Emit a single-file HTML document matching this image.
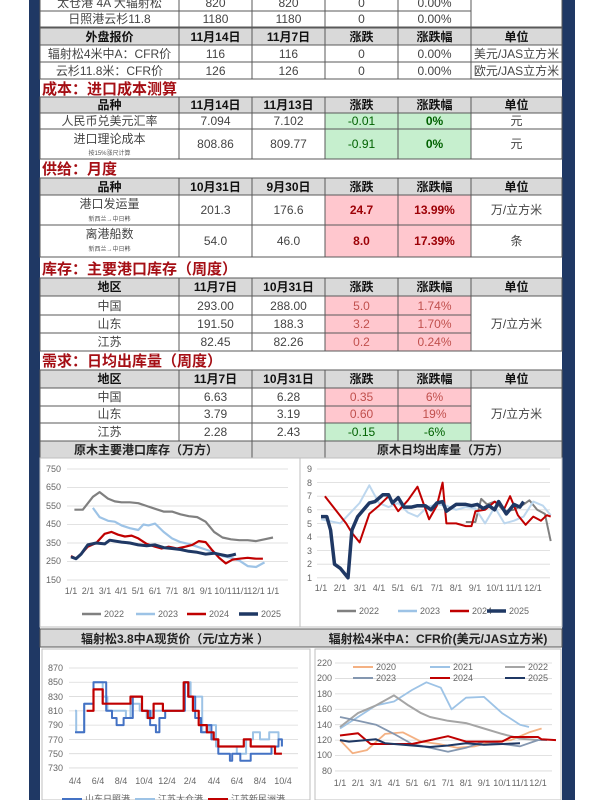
<!DOCTYPE html>
<html><head><meta charset="utf-8"><style>
html,body{margin:0;padding:0;background:#fff;}
svg{display:block;font-family:"Liberation Sans","Noto Sans CJK SC",sans-serif;}
.t{font-size:12px;text-anchor:middle;fill:#444;}
.h{font-size:12px;text-anchor:middle;fill:#111;font-weight:bold;}
.s{font-size:6px;text-anchor:middle;fill:#555;}
.sec{font-size:15px;font-weight:bold;fill:#a50f15;}
.ax{font-size:9px;fill:#666;}
.axm{font-size:9px;fill:#666;text-anchor:middle;}
.ct{font-size:12px;font-weight:bold;text-anchor:middle;fill:#222;}
</style></head><body>
<svg id="s" width="600" height="800" viewBox="0 0 600 800">
<rect x="29" y="0" width="546" height="800" fill="#1f3864"/>
<rect x="40" y="0" width="522" height="800" fill="#fff"/>
<g id="cells"></g>
<g id="charts"></g>
<g>
<text class="t" x="109.5" y="7">太仓港 4A 大辐射松</text><text class="t" x="215.5" y="7">820</text><text class="t" x="288.5" y="7">820</text><text class="t" x="361.5" y="7">0</text><text class="t" x="434.5" y="7">0.00%</text>
<text class="t" x="109.5" y="23">日照港云杉11.8</text><text class="t" x="215.5" y="23">1180</text><text class="t" x="288.5" y="23">1180</text><text class="t" x="361.5" y="23">0</text><text class="t" x="434.5" y="23">0.00%</text>
<text class="h" x="109.5" y="41">外盘报价</text><text class="h" x="215.5" y="41">11月14日</text><text class="h" x="288.5" y="41">11月7日</text><text class="h" x="361.5" y="41">涨跌</text><text class="h" x="434.5" y="41">涨跌幅</text><text class="h" x="516.5" y="41">单位</text>
<text class="t" x="109.5" y="58">辐射松4米中A：CFR价</text><text class="t" x="215.5" y="58">116</text><text class="t" x="288.5" y="58">116</text><text class="t" x="361.5" y="58">0</text><text class="t" x="434.5" y="58">0.00%</text><text class="t" x="516.5" y="58">美元/JAS立方米</text>
<text class="t" x="109.5" y="75">云杉11.8米：CFR价</text><text class="t" x="215.5" y="75">126</text><text class="t" x="288.5" y="75">126</text><text class="t" x="361.5" y="75">0</text><text class="t" x="434.5" y="75">0.00%</text><text class="t" x="516.5" y="75">欧元/JAS立方米</text>
<text class="sec" x="42" y="94">成本：进口成本测算</text>
<text class="h" x="109.5" y="109">品种</text><text class="h" x="215.5" y="109">11月14日</text><text class="h" x="288.5" y="109">11月13日</text><text class="h" x="361.5" y="109">涨跌</text><text class="h" x="434.5" y="109">涨跌幅</text><text class="h" x="516.5" y="109">单位</text>
<text class="t" x="109.5" y="125">人民币兑美元汇率</text><text class="t" x="215.5" y="125">7.094</text><text class="t" x="288.5" y="125">7.102</text><text class="t" x="361.5" y="125" style="fill:#006100">-0.01</text><text class="t" x="434.5" y="125" style="fill:#006100;font-weight:bold">0%</text><text class="t" x="516.5" y="125">元</text>
<text class="t" x="109.5" y="143">进口理论成本</text><text class="s" x="109.5" y="155">按15%涨尺计算</text><text class="t" x="215.5" y="148">808.86</text><text class="t" x="288.5" y="148">809.77</text><text class="t" x="361.5" y="148" style="fill:#006100">-0.91</text><text class="t" x="434.5" y="148" style="fill:#006100;font-weight:bold">0%</text><text class="t" x="516.5" y="148">元</text>
<text class="sec" x="42" y="174">供给：月度</text>
<text class="h" x="109.5" y="191">品种</text><text class="h" x="215.5" y="191">10月31日</text><text class="h" x="288.5" y="191">9月30日</text><text class="h" x="361.5" y="191">涨跌</text><text class="h" x="434.5" y="191">涨跌幅</text><text class="h" x="516.5" y="191">单位</text>
<text class="t" x="109.5" y="208">港口发运量</text><text class="s" x="109.5" y="221">新西兰→中日韩</text><text class="t" x="215.5" y="214">201.3</text><text class="t" x="288.5" y="214">176.6</text><text class="t" x="361.5" y="214" style="fill:#9c0006;font-weight:bold">24.7</text><text class="t" x="434.5" y="214" style="fill:#9c0006;font-weight:bold">13.99%</text><text class="t" x="516.5" y="214">万/立方米</text>
<text class="t" x="109.5" y="238">离港船数</text><text class="s" x="109.5" y="251">新西兰→中日韩</text><text class="t" x="215.5" y="245">54.0</text><text class="t" x="288.5" y="245">46.0</text><text class="t" x="361.5" y="245" style="fill:#9c0006;font-weight:bold">8.0</text><text class="t" x="434.5" y="245" style="fill:#9c0006;font-weight:bold">17.39%</text><text class="t" x="516.5" y="245">条</text>
<text class="sec" x="42" y="274">库存：主要港口库存（周度）</text>
<text class="h" x="109.5" y="291">地区</text><text class="h" x="215.5" y="291">11月7日</text><text class="h" x="288.5" y="291">10月31日</text><text class="h" x="361.5" y="291">涨跌</text><text class="h" x="434.5" y="291">涨跌幅</text><text class="h" x="516.5" y="291">单位</text>
<text class="t" x="109.5" y="310">中国</text><text class="t" x="215.5" y="310">293.00</text><text class="t" x="288.5" y="310">288.00</text><text class="t" x="361.5" y="310" style="fill:#c0504d">5.0</text><text class="t" x="434.5" y="310" style="fill:#c0504d">1.74%</text>
<text class="t" x="109.5" y="328">山东</text><text class="t" x="215.5" y="328">191.50</text><text class="t" x="288.5" y="328">188.3</text><text class="t" x="361.5" y="328" style="fill:#c0504d">3.2</text><text class="t" x="434.5" y="328" style="fill:#c0504d">1.70%</text><text class="t" x="516.5" y="328">万/立方米</text>
<text class="t" x="109.5" y="346">江苏</text><text class="t" x="215.5" y="346">82.45</text><text class="t" x="288.5" y="346">82.26</text><text class="t" x="361.5" y="346" style="fill:#c0504d">0.2</text><text class="t" x="434.5" y="346" style="fill:#c0504d">0.24%</text>
<text class="sec" x="42" y="366">需求：日均出库量（周度）</text>
<text class="h" x="109.5" y="383">地区</text><text class="h" x="215.5" y="383">11月7日</text><text class="h" x="288.5" y="383">10月31日</text><text class="h" x="361.5" y="383">涨跌</text><text class="h" x="434.5" y="383">涨跌幅</text><text class="h" x="516.5" y="383">单位</text>
<text class="t" x="109.5" y="401">中国</text><text class="t" x="215.5" y="401">6.63</text><text class="t" x="288.5" y="401">6.28</text><text class="t" x="361.5" y="401" style="fill:#c0504d">0.35</text><text class="t" x="434.5" y="401" style="fill:#c0504d">6%</text>
<text class="t" x="109.5" y="418">山东</text><text class="t" x="215.5" y="418">3.79</text><text class="t" x="288.5" y="418">3.19</text><text class="t" x="361.5" y="418" style="fill:#c0504d">0.60</text><text class="t" x="434.5" y="418" style="fill:#c0504d">19%</text><text class="t" x="516.5" y="418">万/立方米</text>
<text class="t" x="109.5" y="436">江苏</text><text class="t" x="215.5" y="436">2.28</text><text class="t" x="288.5" y="436">2.43</text><text class="t" x="361.5" y="436" style="fill:#006100">-0.15</text><text class="t" x="434.5" y="436" style="fill:#006100">-6%</text>
<text class="ct" x="146" y="454">原木主要港口库存（万方）</text>
<text class="ct" x="443" y="454">原木日均出库量（万方）</text>
<text class="ct" x="175" y="643">辐射松3.8中A现货价（元/立方米 ）</text>
<text class="ct" x="438" y="643">辐射松4米中A：CFR价(美元/JAS立方米)</text>
</g>
<g id="labels">
<text class="ax" x="46" y="472">750</text><text class="ax" x="46" y="490">650</text><text class="ax" x="46" y="509">550</text><text class="ax" x="46" y="527">450</text><text class="ax" x="46" y="546">350</text><text class="ax" x="46" y="564">250</text><text class="ax" x="46" y="583">150</text>
<text class="axm" x="71" y="594">1/1</text><text class="axm" x="88" y="594">2/1</text><text class="axm" x="105" y="594">3/1</text><text class="axm" x="121" y="594">4/1</text><text class="axm" x="138" y="594">5/1</text><text class="axm" x="155" y="594">6/1</text><text class="axm" x="172" y="594">7/1</text><text class="axm" x="189" y="594">8/1</text><text class="axm" x="206" y="594">9/1</text><text class="axm" x="223" y="594">10/1</text><text class="axm" x="240" y="594">11/1</text><text class="axm" x="256" y="594">12/1</text><text class="axm" x="273" y="594">1/1</text>
<text class="ax" x="307" y="472">9</text><text class="ax" x="307" y="486">8</text><text class="ax" x="307" y="499">7</text><text class="ax" x="307" y="513">6</text><text class="ax" x="307" y="527">5</text><text class="ax" x="307" y="540">4</text><text class="ax" x="307" y="554">3</text><text class="ax" x="307" y="567">2</text><text class="ax" x="307" y="581">1</text>
<text class="axm" x="321" y="591">1/1</text><text class="axm" x="340" y="591">2/1</text><text class="axm" x="360" y="591">3/1</text><text class="axm" x="379" y="591">4/1</text><text class="axm" x="398" y="591">5/1</text><text class="axm" x="417" y="591">6/1</text><text class="axm" x="437" y="591">7/1</text><text class="axm" x="456" y="591">8/1</text><text class="axm" x="475" y="591">9/1</text><text class="axm" x="495" y="591">10/1</text><text class="axm" x="514" y="591">11/1</text><text class="axm" x="533" y="591">12/1</text>
<text class="ax" x="48" y="671">870</text><text class="ax" x="48" y="685">850</text><text class="ax" x="48" y="700">830</text><text class="ax" x="48" y="714">810</text><text class="ax" x="48" y="728">790</text><text class="ax" x="48" y="743">770</text><text class="ax" x="48" y="757">750</text><text class="ax" x="48" y="771">730</text>
<text class="axm" x="75" y="784">4/4</text><text class="axm" x="98" y="784">6/4</text><text class="axm" x="121" y="784">8/4</text><text class="axm" x="144" y="784">10/4</text><text class="axm" x="167" y="784">12/4</text><text class="axm" x="190" y="784">2/4</text><text class="axm" x="214" y="784">4/4</text><text class="axm" x="237" y="784">6/4</text><text class="axm" x="260" y="784">8/4</text><text class="axm" x="283" y="784">10/4</text>
<text class="ax" x="317" y="666">220</text><text class="ax" x="317" y="681">200</text><text class="ax" x="317" y="697">180</text><text class="ax" x="317" y="712">160</text><text class="ax" x="317" y="728">140</text><text class="ax" x="317" y="743">120</text><text class="ax" x="317" y="758">100</text><text class="ax" x="322" y="774">80</text>
<text class="axm" x="340" y="786">1/1</text><text class="axm" x="358" y="786">2/1</text><text class="axm" x="376" y="786">3/1</text><text class="axm" x="394" y="786">4/1</text><text class="axm" x="412" y="786">5/1</text><text class="axm" x="430" y="786">6/1</text><text class="axm" x="448" y="786">7/1</text><text class="axm" x="466" y="786">8/1</text><text class="axm" x="484" y="786">9/1</text><text class="axm" x="502" y="786">10/1</text><text class="axm" x="520" y="786">11/1</text><text class="axm" x="538" y="786">12/1</text>
<line x1="82" y1="614" x2="101" y2="614" stroke="#808080" stroke-width="2.5"/><text class="ax" x="104" y="617">2022</text>
<line x1="136" y1="614" x2="155" y2="614" stroke="#9dc3e6" stroke-width="2.5"/><text class="ax" x="158" y="617">2023</text>
<line x1="187" y1="614" x2="206" y2="614" stroke="#c00000" stroke-width="2.5"/><text class="ax" x="209" y="617">2024</text>
<line x1="239" y1="614" x2="258" y2="614" stroke="#1f3864" stroke-width="3.5"/><text class="ax" x="261" y="617">2025</text>
<line x1="337" y1="611" x2="356" y2="611" stroke="#808080" stroke-width="2.5"/><text class="ax" x="359" y="614">2022</text>
<line x1="398" y1="611" x2="417" y2="611" stroke="#9dc3e6" stroke-width="2.5"/><text class="ax" x="420" y="614">2023</text>
<line x1="450" y1="611" x2="469" y2="611" stroke="#c00000" stroke-width="2.5"/><text class="ax" x="472" y="614">2024</text>
<line x1="487" y1="611" x2="506" y2="611" stroke="#1f3864" stroke-width="3.5"/><text class="ax" x="509" y="614">2025</text>
<line x1="353" y1="667" x2="373" y2="667" stroke="#f4b183" stroke-width="2"/><text class="ax" x="376" y="670">2020</text>
<line x1="430" y1="667" x2="450" y2="667" stroke="#9dc3e6" stroke-width="2"/><text class="ax" x="453" y="670">2021</text>
<line x1="505" y1="667" x2="525" y2="667" stroke="#a5a5a5" stroke-width="2"/><text class="ax" x="528" y="670">2022</text>
<line x1="353" y1="678" x2="373" y2="678" stroke="#8497b0" stroke-width="2"/><text class="ax" x="376" y="681">2023</text>
<line x1="430" y1="678" x2="450" y2="678" stroke="#c00000" stroke-width="2"/><text class="ax" x="453" y="681">2024</text>
<line x1="505" y1="678" x2="525" y2="678" stroke="#1f3864" stroke-width="2"/><text class="ax" x="528" y="681">2025</text>
<line x1="62" y1="799" x2="82" y2="799" stroke="#4472c4" stroke-width="2"/><text class="ax" x="85" y="802">山东日照港</text>
<line x1="135" y1="799" x2="155" y2="799" stroke="#9dc3e6" stroke-width="2"/><text class="ax" x="158" y="802">江苏太仓港</text>
<line x1="208" y1="799" x2="228" y2="799" stroke="#c00000" stroke-width="2"/><text class="ax" x="231" y="802">江苏新民洲港</text>
</g>
</svg>
<script>
var NS="http://www.w3.org/2000/svg";
function el(p,n,a){var e=document.createElementNS(NS,n);for(var k in a)e.setAttribute(k,a[k]);p.appendChild(e);return e;}
var X=[40,179,252,325,398,471,562];
var cells=document.getElementById('cells');
var B='#595959';
function row(y0,y1,f,skipUnit){for(var i=0;i<6;i++){if(skipUnit&&i==5)continue;el(cells,'rect',{x:X[i],y:y0,width:X[i+1]-X[i],height:y1-y0,fill:f&&f[i]?f[i]:'#fff',stroke:B,'stroke-width':1});}}
var G='#d9d9d9',GR='#c6efce',R='#ffc7ce';
var H=[G,G,G,G,G,G];
row(-5,11,null,1);row(11,27,null,1);
el(cells,'rect',{x:471,y:-5,width:91,height:32,fill:'#fff',stroke:B});
row(28,45,H);row(45,62);row(62,79);
row(97,113,H);row(113,129,[0,0,0,GR,GR,0]);row(129,159,[0,0,0,GR,GR,0]);
row(178,195,H);row(195,225,[0,0,0,R,R,0]);row(225,257,[0,0,0,R,R,0]);
row(278,296,H);row(296,315,[0,0,0,R,R],1);row(315,333,[0,0,0,R,R],1);row(333,351,[0,0,0,R,R],1);
el(cells,'rect',{x:471,y:296,width:91,height:55,fill:'#fff',stroke:B});
row(370,388,H);row(388,406,[0,0,0,R,R],1);row(406,423,[0,0,0,R,R],1);row(423,441,[0,0,0,GR,GR],1);
el(cells,'rect',{x:471,y:388,width:91,height:53,fill:'#fff',stroke:B});
el(cells,'rect',{x:40,y:441,width:212,height:17,fill:G,stroke:B});
el(cells,'rect',{x:252,y:441,width:73,height:17,fill:G,stroke:B});
el(cells,'rect',{x:325,y:441,width:237,height:17,fill:G,stroke:B});
el(cells,'rect',{x:40,y:458,width:522,height:169,fill:'#fff',stroke:'#bfbfbf'});
el(cells,'line',{x1:300,y1:458,x2:300,y2:627,stroke:'#bfbfbf'});
el(cells,'rect',{x:40,y:629,width:522,height:18,fill:G,stroke:B});
el(cells,'rect',{x:42,y:649,width:268,height:151,fill:'#fff',stroke:'#bfbfbf'});
el(cells,'rect',{x:315,y:649,width:246,height:151,fill:'#fff',stroke:'#bfbfbf'});

var ch=document.getElementById('charts');
function grid(x1,x2,ys){ys.forEach(function(y){el(ch,'line',{x1:x1,x2:x2,y1:y,y2:y,stroke:'#d9d9d9','stroke-width':0.8});});}
function line(pts,fx,fy,col,w,step){var s='';var prev=null;pts.forEach(function(p){var x=fx(p[0]),y=fy(p[1]);if(step&&prev!==null)s+=x.toFixed(1)+','+prev+' ';s+=x.toFixed(1)+','+y.toFixed(1)+' ';prev=y.toFixed(1);});el(ch,'polyline',{points:s,fill:'none',stroke:col,'stroke-width':w,'stroke-linejoin':'round'});}
var a=[];for(var v=750;v>=150;v-=100)a.push(469+(750-v)*0.185);grid(67,288,a);
var f1x=function(m){return 71+m*16.83},f1y=function(v){return 469+(750-v)*0.185};
line([[0.2,530],[0.7,530],[1.3,600],[1.7,625],[2.2,590],[2.6,575],[3,570],[3.5,570],[4,565],[4.5,550],[5,535],[5.5,520],[6,520],[6.5,505],[7,495],[7.5,490],[8,465],[8.5,410],[9,380],[9.5,370],[10,365],[10.5,365],[11,360],[11.5,370],[12,380]],f1x,f1y,'#808080',2.2);
line([[1.3,540],[1.7,490],[2.2,470],[2.6,465],[3,445],[3.5,430],[4,420],[4.3,450],[4.6,445],[5,455],[5.5,410],[6,375],[6.5,355],[7,345],[7.5,330],[8,315],[8.5,300],[9,280],[9.5,270],[10,255],[10.5,225],[11,220],[11.5,245]],f1x,f1y,'#9dc3e6',2.2);
line([[0,280],[0.3,265],[0.7,300],[1,330],[1.5,350],[2,400],[2.4,410],[2.8,395],[3.2,385],[3.6,390],[4,375],[4.5,345],[5,330],[5.4,320],[5.8,330],[6.3,320],[6.8,330],[7.2,340],[7.6,360],[8,355],[8.4,310],[8.8,270],[9.2,240],[9.6,260],[10,265],[10.5,270],[11,265],[11.4,265]],f1x,f1y,'#c00000',2.2);
line([[0,275],[0.3,265],[0.6,290],[1,340],[1.5,350],[2,345],[2.3,365],[3,355],[3.5,350],[4,340],[4.5,335],[5,340],[5.5,325],[6,320],[6.5,315],[7,305],[7.5,300],[8,290],[8.5,295],[9,285],[9.3,280],[9.6,285],[9.8,290]],f1x,f1y,'#1f3864',3);
a=[];for(v=9;v>=1;v--)a.push(469+(9-v)*13.6);grid(317,550,a);
var f2x=function(m){return 321+m*19.3},f2y=function(v){return 469+(9-v)*13.6};
line([[7.5,5.1],[8,5.1],[8.3,6.8],[8.6,6.4],[9,6.6],[9.5,5.9],[10,6.0],[10.5,6.4],[10.8,6.7],[11.2,6.0],[11.6,5.7],[11.9,3.7]],f2x,f2y,'#808080',2);
line([[0,5.3],[1,5],[2,6.5],[2.5,7.8],[3,6.5],[3.5,6.2],[4,6.5],[4.5,5.8],[5,5.5],[5.5,6.2],[6,6.4],[6.5,6.3],[7,6.0],[7.5,6.2],[8,6.1],[8.5,5.0],[9,6.2],[9.5,5.0],[10,5.2],[10.5,5.5],[11,6.6],[11.5,6.3],[11.9,5.6]],f2x,f2y,'#bdd7ee',2);
line([[0.2,7],[1.3,5.0],[1.6,4.3],[2,3.6],[2.5,5.7],[3,6.3],[3.5,7.0],[4,5.9],[4.5,6.7],[5,7.7],[5.6,5.3],[6,6.3],[6.3,8.0],[6.5,5],[7,5],[7.5,4.8],[7.8,4.8],[8,5.9],[8.5,6],[9,6.6],[9.5,6.1],[9.8,7],[10.2,5.6],[10.6,4.9],[11,5.5],[11.4,5.2],[11.7,5.6],[11.9,5.5]],f2x,f2y,'#c00000',2);
line([[0,5.5],[0.3,5.5],[0.5,4.5],[0.7,2],[1,1.7],[1.4,1],[1.6,4.5],[1.9,5.5],[2.2,6],[2.5,6.5],[2.8,6.6],[3.2,7.1],[3.5,7.1],[3.7,6.5],[4,6.9],[4.3,6.2],[4.7,6.2],[5,6.3],[5.4,6.3],[5.7,6.0],[6,6.5],[6.3,6.6],[6.5,5.9],[7,6.4],[7.5,6.4],[7.8,6.3],[8.1,6.4],[8.4,6.1],[8.7,6.3],[9,6.0],[9.2,6.6],[9.6,5.7],[10,6.4],[10.3,6.2],[10.5,6.6]],f2x,f2y,'#1f3864',3.5);
a=[];for(v=870;v>=730;v-=20)a.push(668+(870-v)*0.714);grid(69,298,a);
var f3x=function(m){return 75+m*11.56},f3y=function(v){return 668+(870-v)*0.714};
line([[0,810],[0.1,780],[0.8,820],[1.6,850],[2.4,830],[2.8,810],[3.6,810],[4.4,800],[4.8,820],[5.6,810],[6.2,800],[6.6,810],[7.6,810],[9.5,850],[10,830],[11,780],[11.6,790],[12.2,760],[13.2,760],[14,750],[14.8,770],[15.4,780],[16,770],[16.8,780],[17.6,770],[17.9,760]],f3x,f3y,'#9dc3e6',2,1);
line([[0,780],[0.8,820],[1.6,850],[2.7,810],[3.2,800],[3.6,790],[4.2,800],[5,830],[5.8,810],[6.5,790],[7.0,780],[7.3,800],[7.8,810],[9.5,850],[9.8,830],[10.4,800],[10.9,780],[11.4,790],[11.8,770],[12.4,750],[13.4,740],[13.6,750],[14.3,740],[15.2,750],[17,760],[17.6,770],[17.9,760]],f3x,f3y,'#4472c4',2,1);
line([[1.0,810],[1.6,840],[2.4,820],[4.8,830],[5.8,810],[6.3,800],[6.8,820],[7.6,810],[9.4,850],[9.8,830],[10.2,810],[10.7,790],[11.4,780],[12.0,770],[12.4,760],[14.6,770],[15.2,760],[17.3,750],[17.9,750]],f3x,f3y,'#c00000',2.2,1);
a=[];for(v=220;v>=80;v-=20)a.push(663+(220-v)*0.771);grid(335,552,a);
var f4x=function(m){return 340+m*18},f4y=function(v){return 663+(220-v)*0.771};
line([[0,120],[0.7,103],[1.5,107],[2.5,128],[3.5,130],[4.5,118],[5.5,115],[6.5,110],[7.5,112],[8.5,118],[9.5,120],[10.5,130],[11.2,135]],f4x,f4y,'#f4b183',1.8);
line([[0,135],[1,150],[2,165],[3,170],[4,185],[4.8,195],[5.6,188],[6.2,160],[7,175],[8,176],[9,155],[10,140],[10.5,137]],f4x,f4y,'#9dc3e6',1.8);
line([[0,137],[1,155],[2,165],[3,178],[3.8,165],[4.5,155],[5,150],[6,145],[7,142],[8,135],[9,128],[10,122],[11,120]],f4x,f4y,'#a5a5a5',2);
line([[0,150],[1,145],[2,140],[3,128],[4,115],[5,110],[6,105],[7,110],[8,118],[9,115],[10,112],[11,120],[11.5,120]],f4x,f4y,'#8497b0',1.8);
line([[0,126],[1,129],[1.7,115],[3,115],[4,115],[5,120],[6,125],[7,118],[8,118],[9,118],[9.5,124],[11,124],[11.2,121],[12,120]],f4x,f4y,'#c00000',2);
line([[0,120],[0.5,118],[2,121],[2.5,116],[4,113],[5,111],[6,113],[7,116],[8,114],[9,115],[10,116]],f4x,f4y,'#1f3864',2);
</script>
</body></html>
